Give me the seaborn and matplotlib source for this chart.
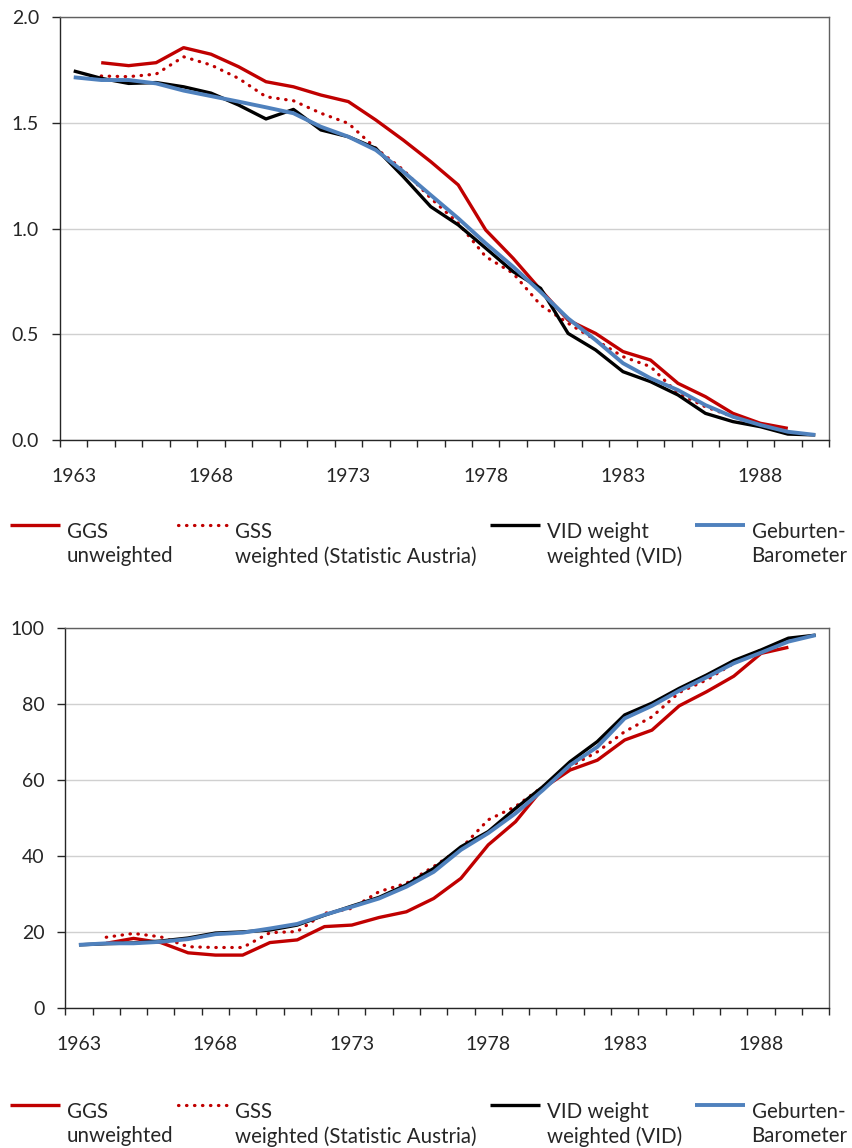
import numpy as np
import pandas as pd
import matplotlib
matplotlib.use("Agg")
import matplotlib.pyplot as plt
import seaborn as sns
from matplotlib.font_manager import FontProperties

# ---------------- data ----------------
years = list(range(1963, 1991))
years_short = list(range(1964, 1990))

top_ggs = [1.784, 1.77, 1.784, 1.855, 1.824, 1.765, 1.694, 1.67, 1.631, 1.60, 1.513, 1.418, 1.316,
           1.206, 0.993, 0.859, 0.71, 0.567, 0.504, 0.418, 0.378, 0.268, 0.205, 0.126, 0.079, 0.055]
top_gss = [1.721, 1.718, 1.73, 1.812, 1.773, 1.71, 1.623, 1.604, 1.545, 1.497, 1.379, 1.277, 1.143,
           1.025, 0.867, 0.788, 0.638, 0.552, 0.473, 0.394, 0.347, 0.221, 0.157, 0.110, 0.063, 0.039]
top_vid = [1.745, 1.71, 1.686, 1.69, 1.67, 1.64, 1.584, 1.518, 1.563, 1.466, 1.434, 1.379, 1.245, 1.103,
           1.017, 0.907, 0.796, 0.717, 0.504, 0.426, 0.323, 0.276, 0.213, 0.126, 0.087, 0.063, 0.028, 0.024]
top_gb = [1.715, 1.702, 1.702, 1.686, 1.652, 1.626, 1.60, 1.573, 1.545, 1.481, 1.434, 1.371, 1.269, 1.158,
          1.048, 0.93, 0.819, 0.70, 0.575, 0.473, 0.363, 0.292, 0.236, 0.165, 0.11, 0.071, 0.039, 0.024]

bot_ggs = [17.1, 18.4, 17.3, 14.6, 14.0, 14.0, 17.3, 18.0, 21.5, 21.9, 23.9, 25.4, 28.9,
           34.2, 43.0, 49.1, 57.9, 62.7, 65.3, 70.6, 73.2, 79.6, 83.3, 87.4, 93.4, 95.0]
bot_gss = [18.7, 19.7, 18.8, 16.2, 16.0, 16.0, 19.9, 20.2, 25.0, 26.3, 30.7, 32.9, 37.3,
           42.1, 49.6, 53.1, 58.3, 63.6, 67.5, 72.8, 76.7, 83.1, 86.4, 90.8, 94.3, 96.5]
bot_vid = [16.7, 17.0, 17.2, 17.7, 18.5, 19.8, 20.1, 20.6, 21.9, 24.5, 26.9, 29.2, 32.5, 36.8,
           42.5, 46.5, 52.6, 58.3, 64.9, 70.2, 77.2, 80.3, 84.2, 87.7, 91.5, 94.3, 97.4, 98.2]
bot_gb = [16.7, 17.1, 17.1, 17.5, 18.2, 19.5, 19.9, 21.0, 22.2, 24.6, 26.7, 28.9, 32.0, 35.9,
          41.7, 46.1, 51.3, 57.4, 64.0, 68.8, 76.3, 79.6, 83.6, 87.1, 90.8, 93.6, 96.5, 98.2]

series_keys = ["GGS", "GSS", "VID", "GB"]
legend_labels = ["GGS\nunweighted", "GSS\nweighted (Statistic Austria)",
                 "VID weight\nweighted (VID)", "Geburten-\nBarometer"]
x_tick_years = [1963, 1968, 1973, 1978, 1983, 1988]
top_yticks = [0.0, 0.5, 1.0, 1.5, 2.0]
bot_yticks = [0, 20, 40, 60, 80, 100]

# ---------------- style ----------------
colors = {"GGS": "#C00000", "GSS": "#C00000", "VID": "#000000", "GB": "#4F81BD"}
widths = {"GGS": 2.4, "GSS": 2.3, "VID": 2.4, "GB": 2.8}
dashes = {"GGS": None, "GSS": (0.15, 2.35), "VID": None, "GB": None}

sns.set_theme(style="white")
plt.rcParams["font.family"] = ["Lato", "DejaVu Sans"]
FS = 14
LFS = 14.8
TXT = "#262626"

W, H = 853, 1148
fig = plt.figure(figsize=(W / 100, H / 100), dpi=100)
ax1 = fig.add_axes([60 / W, 1 - 440 / H, (829 - 60) / W, (440 - 17) / H])
ax2 = fig.add_axes([65.3 / W, 1 - 1008.3 / H, (829.3 - 65.3) / W, (1008.3 - 628.3) / H])


def make_df(vals):
    frames = []
    for key in series_keys:
        v = vals[key]
        yrs = years if len(v) == len(years) else years_short
        frames.append(pd.DataFrame({"year": yrs, "value": v, "series": key}))
    return pd.concat(frames, ignore_index=True)


def draw(ax, df, yticks, ylim, fmt):
    for key in series_keys:
        sub = df[df["series"] == key]
        kw = dict(color=colors[key], linewidth=widths[key], ax=ax, legend=False,
                  errorbar=None, solid_capstyle="butt")
        if dashes[key] is not None:
            kw.update(dash_capstyle="round", dashes=dashes[key])
        sns.lineplot(data=sub, x="year", y="value", **kw)
    ax.set_xlim(1962.5, 1990.5)
    ax.set_ylim(*ylim)
    ax.set_xticks(x_tick_years)
    ax.set_xticklabels([str(y) for y in x_tick_years])
    ax.set_xticks(np.arange(1962.5, 1991.0, 1.0), minor=True)
    ax.set_yticks(yticks)
    ax.set_yticklabels([fmt.format(t) for t in yticks])
    ax.set_xlabel("")
    ax.set_ylabel("")
    ax.tick_params(axis="x", which="major", length=0, pad=20, labelsize=FS, labelcolor=TXT)
    ax.tick_params(axis="x", which="minor", bottom=True, length=5, width=1, color=TXT, direction="out")
    ax.tick_params(axis="y", which="major", left=True, length=5.7, width=1, color=TXT,
                   direction="out", pad=9.4, labelsize=FS, labelcolor=TXT)
    ax.yaxis.grid(True, color="#D0D0D0", linewidth=1)
    ax.xaxis.grid(False)
    ax.set_axisbelow(True)
    for s in ["left", "bottom"]:
        ax.spines[s].set_color(TXT)
        ax.spines[s].set_linewidth(1)
    for s in ["top", "right"]:
        ax.spines[s].set_color("#606060")
        ax.spines[s].set_linewidth(1)
        ax.spines[s].set_visible(True)


df_top = make_df({"GGS": top_ggs, "GSS": top_gss, "VID": top_vid, "GB": top_gb})
df_bot = make_df({"GGS": bot_ggs, "GSS": bot_gss, "VID": bot_vid, "GB": bot_gb})
draw(ax1, df_top, top_yticks, (0, 2.0), "{:.1f}")
draw(ax2, df_bot, bot_yticks, (0, 100), "{:.0f}")

# ---------------- legends ----------------
renderer = fig.canvas.get_renderer()
fp = FontProperties(family=["Lato", "DejaVu Sans"], size=LFS)
_, lp_h, lp_d = renderer.get_text_width_height_descent("lp", fp, ismath=False)
gap_px = 20.5
linesp = gap_px / (lp_h - lp_d)
gap_pt = gap_px * 72.0 / fig.dpi
entry_x = [10, 178, 490, 695]


def add_legend(ax, top_px):
    handles = ax.get_lines()[:4]
    for h, lab, x0 in zip(handles, legend_labels, entry_x):
        leg = fig.legend(handles=[h], labels=[lab], loc="upper left",
                         bbox_to_anchor=(x0 / W, 1 - top_px / H), frameon=False,
                         fontsize=LFS, handlelength=2.45, handletextpad=0.3,
                         borderpad=0, borderaxespad=0)
        for t in leg.get_texts():
            t.set_linespacing(linesp)
            t.set_color(TXT)
        for ln in leg.get_lines():
            ln.set_ydata(np.asarray(ln.get_ydata(), dtype=float) + gap_pt)


add_legend(ax1, 522)
add_legend(ax2, 1102)

fig.savefig("out.png", dpi=100)
